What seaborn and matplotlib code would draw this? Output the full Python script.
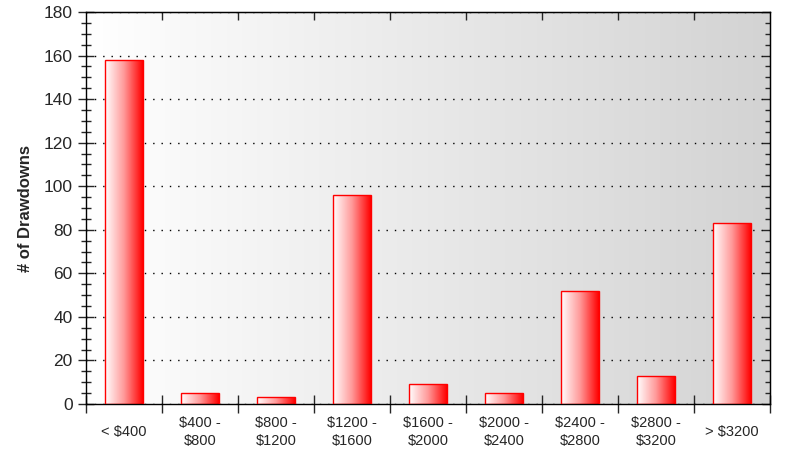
import numpy as np
import pandas as pd
import matplotlib.pyplot as plt
import matplotlib.ticker as mtick
from matplotlib.colors import LinearSegmentedColormap
import seaborn as sns

categories = ["< $400", "$400 -\n$800", "$800 -\n$1200", "$1200 -\n$1600", "$1600 -\n$2000",
              "$2000 -\n$2400", "$2400 -\n$2800", "$2800 -\n$3200", "> $3200"]
drawdowns = [158, 5, 3, 96, 9, 5, 52, 13, 83]

sns.set_style("white")
plt.rcParams["font.family"] = ["Liberation Sans", "DejaVu Sans"]

df = pd.DataFrame({"range": categories, "count": drawdowns})
n = len(categories)

fig = plt.figure(figsize=(8.12, 4.62), dpi=100)
ax = fig.add_axes([86 / 812, 58 / 462, 684 / 812, 392 / 462])

sns.barplot(data=df, x="range", y="count", width=0.5, ax=ax,
            color="red", edgecolor="red", linewidth=1.0)

# background gradient: white on the left to light grey on the right
bg = LinearSegmentedColormap.from_list("bg", ["#ffffff", "#d3d3d3"])
grad = np.linspace(0, 1, 256).reshape(1, -1)
ax.imshow(grad, cmap=bg, aspect="auto", extent=[-0.5, n - 0.5, 0, 180],
          zorder=0, origin="lower")

# bar gradient: white on the left to red on the right
barmap = LinearSegmentedColormap.from_list("bar", ["#ffffff", "#ff9a9a", "#ff0000"])
for patch in ax.patches:
    x0, y0 = patch.get_x(), patch.get_y()
    w, h = patch.get_width(), patch.get_height()
    patch.set_facecolor("none")
    patch.set_zorder(3)
    im = ax.imshow(grad, cmap=barmap, aspect="auto", extent=[x0, x0 + w, y0, y0 + h],
                   zorder=2, origin="lower")
    im.set_clip_path(patch)

ax.set_xlim(-0.5, n - 0.5)
ax.set_ylim(0, 180)

ax.yaxis.set_major_locator(mtick.MultipleLocator(20))
ax.yaxis.set_minor_locator(mtick.MultipleLocator(5))
ax.grid(axis="y", which="major", color="black", linestyle=(0, (1, 5)), linewidth=1.0)
for line in ax.get_ygridlines():
    line.set_zorder(1)

bounds = np.arange(-0.5, n, 1)
ax.set_xticks(np.arange(n))
ax.set_xticklabels(categories, fontsize=10.5, linespacing=1.35, va="center")
ax.xaxis.set_minor_locator(mtick.FixedLocator(bounds))
ax.tick_params(axis="x", which="major", length=0, pad=20)
ax.tick_params(axis="x", which="minor", direction="inout", length=13, width=1,
               top=False, bottom=True)
ax.tick_params(axis="y", which="major", direction="inout", length=12, width=1,
               labelsize=12.5, left=True, right=False)
ax.tick_params(axis="y", which="minor", direction="inout", length=7, width=1,
               left=True, right=False)

# inward ticks on the right and top edges
right = ax.secondary_yaxis("right")
right.yaxis.set_major_locator(mtick.MultipleLocator(20))
right.yaxis.set_minor_locator(mtick.MultipleLocator(5))
right.tick_params(which="major", direction="in", length=6, width=1, labelright=False)
right.tick_params(which="minor", direction="in", length=3.5, width=1)

top = ax.secondary_xaxis("top")
top.set_xticks(bounds[1:-1])
top.tick_params(direction="in", length=6, width=1, labeltop=False)

for side in ["left", "right", "top", "bottom"]:
    ax.spines[side].set_visible(True)
    ax.spines[side].set_color("black")
    ax.spines[side].set_linewidth(1.0)

ax.set_xlabel("")
ax.set_ylabel("# of Drawdowns", fontsize=12, fontweight="bold", labelpad=8)

fig.savefig("out.png", dpi=100)
